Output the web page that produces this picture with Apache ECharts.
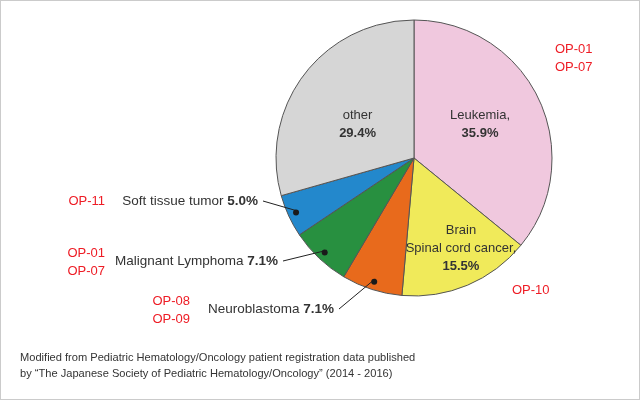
<!DOCTYPE html>
<html lang="en">
<head>
    <meta charset="UTF-8">
    <title>Pediatric cancer breakdown</title>
    <script src="https://cdn.jsdelivr.net/npm/echarts@6/dist/echarts.min.js"></script>
    <style>
        html, body { margin: 0; padding: 0; background: #fff; }
        #main { width: 640px; height: 400px; box-sizing: border-box; border: 1px solid #cbcbcb; }
    </style>
</head>
<body>
<div id="main"></div>
<script type="text/javascript">
    var names = ['Leukemia,', 'Brain\nSpinal cord cancer,', 'Neuroblastoma', 'Malignant Lymphoma', 'Soft tissue tumor', 'other'];
    var values = [35.9, 15.5, 7.1, 7.1, 5.0, 29.4];
    var opCodes = ['OP-01\nOP-07', 'OP-10', 'OP-08\nOP-09', 'OP-01\nOP-07', 'OP-11', ''];
    var colors = ['#f0c8de', '#f0ea5a', '#e86a1c', '#289040', '#2388cc', '#d6d6d6'];
    var note = 'Modified from Pediatric Hematology/Oncology patient registration data published\nby \u201cThe Japanese Society of Pediatric Hematology/Oncology\u201d (2014 - 2016)';

    // 0 = label inside slice, 1 = label outside with leader line
    var outside = [0, 0, 1, 1, 1, 0];
    var insideOffset = [[1, -3], [19, 24], null, null, null, [1, 10]];
    // outside label anchor: right end of text
    var outPos = [null, null, [333, 308], [277, 260], [257, 200]];
    // OP code placement: [x, y, align]
    var opPos = [[554, 57, 'left'], [511, 289, 'left'], [189, 309, 'right'], [104, 261, 'right'], [104, 200, 'right']];

    var center = [413, 157];
    var dotR = 127;
    var font = '"Liberation Sans", Arial, sans-serif';

    var myChart = echarts.init(document.getElementById('main'));

    var mainData = [], lineData = [], dotData = [];
    for (var i = 0; i < names.length; i++) {
        var pct = values[i].toFixed(1) + '%';
        mainData.push({
            name: names[i],
            value: values[i],
            itemStyle: { color: colors[i] },
            label: outside[i] ? { show: false } : {
                show: true,
                position: 'inside',
                offset: insideOffset[i],
                formatter: names[i] + '\n{b|' + pct + '}'
            }
        });
        lineData.push({
            name: names[i],
            value: values[i],
            label: { show: !!outside[i], formatter: names[i] + ' {b|' + pct + '}' },
            labelLine: { show: !!outside[i] }
        });
        dotData.push({
            name: names[i],
            value: values[i],
            label: { show: !!outside[i] }
        });
    }

    var graphics = [];
    for (var j = 0; j < opCodes.length; j++) {
        if (!opCodes[j]) continue;
        graphics.push({
            type: 'text',
            x: opPos[j][0],
            y: opPos[j][1],
            style: {
                text: opCodes[j],
                fill: '#ee1c25',
                font: '13px ' + font,
                lineHeight: 18,
                align: opPos[j][2],
                verticalAlign: 'middle'
            }
        });
    }
    graphics.push({
        type: 'text',
        x: 19,
        y: 365,
        style: {
            text: note,
            fill: '#333',
            font: '11.1px ' + font,
            lineHeight: 16,
            align: 'left',
            verticalAlign: 'middle'
        }
    });

    var option = {
        backgroundColor: '#fff',
        animation: false,
        graphic: graphics,
        series: [{
            type: 'pie',
            z: 2,
            center: center,
            radius: 138,
            startAngle: 90,
            clockwise: true,
            silent: true,
            itemStyle: { borderColor: '#555', borderWidth: 1 },
            label: {
                color: '#333',
                fontSize: 13,
                fontFamily: font,
                lineHeight: 18,
                align: 'center',
                rich: { b: { fontWeight: 'bold', fontSize: 13, fontFamily: font, color: '#333' } }
            },
            labelLine: { show: false },
            data: mainData
        }, {
            // transparent copy that carries the outside labels and leader lines
            type: 'pie',
            z: 3,
            center: center,
            radius: dotR,
            startAngle: 90,
            clockwise: true,
            silent: true,
            itemStyle: { color: 'rgba(0,0,0,0)' },
            label: {
                position: 'outside',
                color: '#333',
                fontSize: 13.5,
                fontFamily: font,
                rich: { b: { fontWeight: 'bold', fontSize: 13.5, fontFamily: font, color: '#333' } }
            },
            labelLine: { showAbove: true, length: 10, length2: 10, lineStyle: { color: '#222', width: 1 } },
            labelLayout: function (params) {
                var p = outPos[params.dataIndex];
                if (!p) return {};
                var end = [p[0] + 5, p[1]];
                var start = end;
                if (params.labelLinePoints) {
                    // pull the line start back onto the dot radius along the slice direction
                    var s = params.labelLinePoints[0];
                    var dx = s[0] - center[0], dy = s[1] - center[1];
                    var len = Math.sqrt(dx * dx + dy * dy) || 1;
                    start = [center[0] + dx / len * dotR, center[1] + dy / len * dotR];
                }
                return {
                    x: p[0],
                    y: p[1],
                    align: 'right',
                    verticalAlign: 'middle',
                    labelLinePoints: [start, end, end]
                };
            },
            data: lineData
        }, {
            // thin transparent ring whose inside labels are the leader dots
            type: 'pie',
            z: 4,
            center: center,
            radius: [dotR - 6, dotR + 6],
            startAngle: 90,
            clockwise: true,
            silent: true,
            itemStyle: { color: 'rgba(0,0,0,0)' },
            label: {
                position: 'inside',
                formatter: '{d|}',
                rich: { d: { width: 6, height: 6, borderRadius: 3, backgroundColor: '#1a1a1a' } }
            },
            labelLine: { show: false },
            data: dotData
        }]
    };

    myChart.setOption(option);
</script>
</body>
</html>
